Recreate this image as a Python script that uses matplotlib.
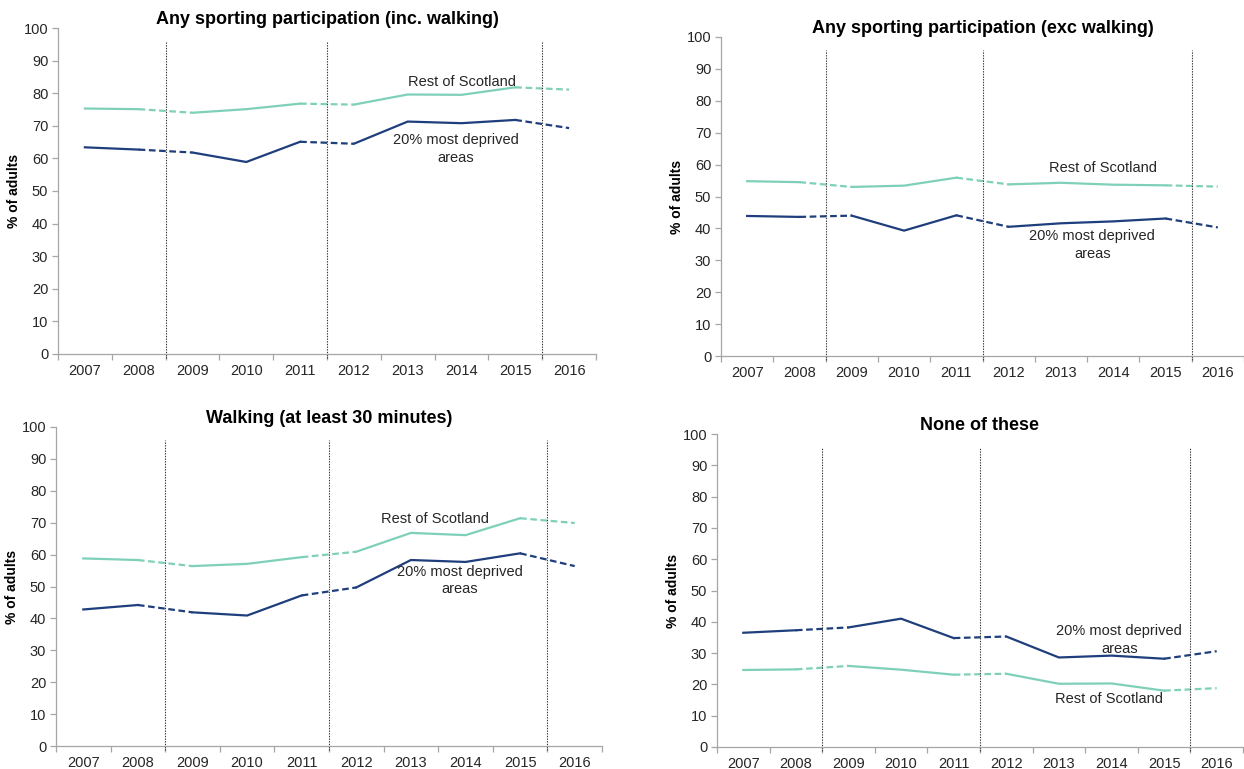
import numpy as np
import matplotlib
matplotlib.use("Agg")
import matplotlib.pyplot as plt

plt.rcParams['font.family'] = ['Liberation Sans', 'DejaVu Sans']

years = ["2007", "2008", "2009", "2010", "2011", "2012", "2013", "2014", "2015", "2016"]

titles = [
    "Any sporting participation (inc. walking)",
    "Any sporting participation (exc walking)",
    "Walking (at least 30 minutes)",
    "None of these",
]

rest_inc_walk = [75.3, 75.1, 74.0, 75.1, 76.8, 76.5, 79.6, 79.5, 81.8, 81.1]
depr_inc_walk = [63.4, 62.7, 61.8, 58.9, 65.1, 64.5, 71.3, 70.8, 71.8, 69.3]

rest_exc_walk = [54.8, 54.5, 53.0, 53.4, 55.9, 53.8, 54.3, 53.7, 53.5, 53.1]
depr_exc_walk = [43.9, 43.6, 44.0, 39.3, 44.1, 40.5, 41.6, 42.2, 43.1, 40.3]

rest_walking = [58.8, 58.3, 56.4, 57.1, 59.2, 60.9, 66.8, 66.1, 71.4, 69.9]
depr_walking = [42.8, 44.2, 41.9, 40.9, 47.2, 49.7, 58.3, 57.7, 60.4, 56.4]

rest_none = [24.6, 24.8, 25.9, 24.7, 23.1, 23.4, 20.2, 20.3, 18.0, 18.8]
depr_none = [36.5, 37.3, 38.2, 41.0, 34.8, 35.3, 28.6, 29.2, 28.2, 30.6]

# survey breaks: gap between these year pairs is drawn dashed
breaks = [(1, 2), (4, 5), (8, 9)]

# label positions (category index, value)
rest_label_pos = [(7.0, 83.5), (6.8, 59.0), (6.45, 71.2), (6.95, 15.3)]
depr_label_pos = [(6.9, 63.0), (6.6, 34.8), (6.9, 51.9), (7.15, 34.2)]

series = [
    (rest_inc_walk, depr_inc_walk),
    (rest_exc_walk, depr_exc_walk),
    (rest_walking, depr_walking),
    (rest_none, depr_none),
]

# axes boxes in pixels: left, right, top, bottom
W, H = 1244, 769
boxes = [
    (58, 596, 28, 354),
    (721, 1244, 37, 356),
    (56, 602, 427, 746),
    (717, 1243, 434, 747),
]

rest_col = "#7fd0b9"
depr_col = "#1f3e7c"
axis_col = "#a6a6a6"
text_col = "#262626"

fig = plt.figure(figsize=(W / 100, H / 100), dpi=100)


def draw_series(ax, vals, color):
    x = np.arange(len(vals))
    start = 0
    for a, b in breaks:
        ax.plot(x[start:a + 1], vals[start:a + 1], color=color, lw=1.6)
        ax.plot(x[a:b + 1], vals[a:b + 1], color=color, lw=1.6,
                linestyle=(0, (3, 1.6)))
        start = b
    if start < len(vals) - 1:
        ax.plot(x[start:], vals[start:], color=color, lw=1.6)


for i, (l, r, t, b) in enumerate(boxes):
    ax = fig.add_axes([l / W, 1 - b / H, (r - l) / W, (b - t) / H])
    rest, depr = series[i]
    draw_series(ax, rest, rest_col)
    draw_series(ax, depr, depr_col)

    for a, bb in breaks:
        ax.vlines(a + 0.5, -1.3, 96, colors="#333333", lw=0.8,
                  linestyles=(0, (1.2, 1.2)), clip_on=False)

    ax.set_xlim(-0.5, len(years) - 0.5)
    ax.set_ylim(0, 100)
    ax.set_yticks(np.arange(0, 101, 10))
    ax.set_xticks(np.arange(len(years)))
    ax.set_xticklabels(years)
    ax.set_xticks(np.arange(-0.5, len(years), 1.0), minor=True)
    ax.tick_params(axis="x", which="major", length=0, labelsize=10.5,
                   colors=text_col, pad=7)
    ax.tick_params(axis="x", which="minor", length=4, color=axis_col, width=0.9,
                   direction="out")
    ax.tick_params(axis="y", length=4, color=axis_col, width=0.9, labelsize=10.5,
                   labelcolor=text_col, pad=3)

    for s in ["top", "right"]:
        ax.spines[s].set_visible(False)
    for s in ["left", "bottom"]:
        ax.spines[s].set_color(axis_col)
        ax.spines[s].set_linewidth(0.9)

    ax.set_ylabel("% of adults", fontsize=10, fontweight="bold", labelpad=2)
    ax.set_title(titles[i], fontsize=13, fontweight="bold", pad=3)

    rx, ry = rest_label_pos[i]
    ax.text(rx, ry, "Rest of Scotland", ha="center", va="center", fontsize=10.5,
            color=text_col)
    dx, dy = depr_label_pos[i]
    ax.text(dx, dy, "20% most deprived\nareas", ha="center", va="center",
            fontsize=10.5, color=text_col, linespacing=1.35)

fig.savefig("out.png", dpi=100)
